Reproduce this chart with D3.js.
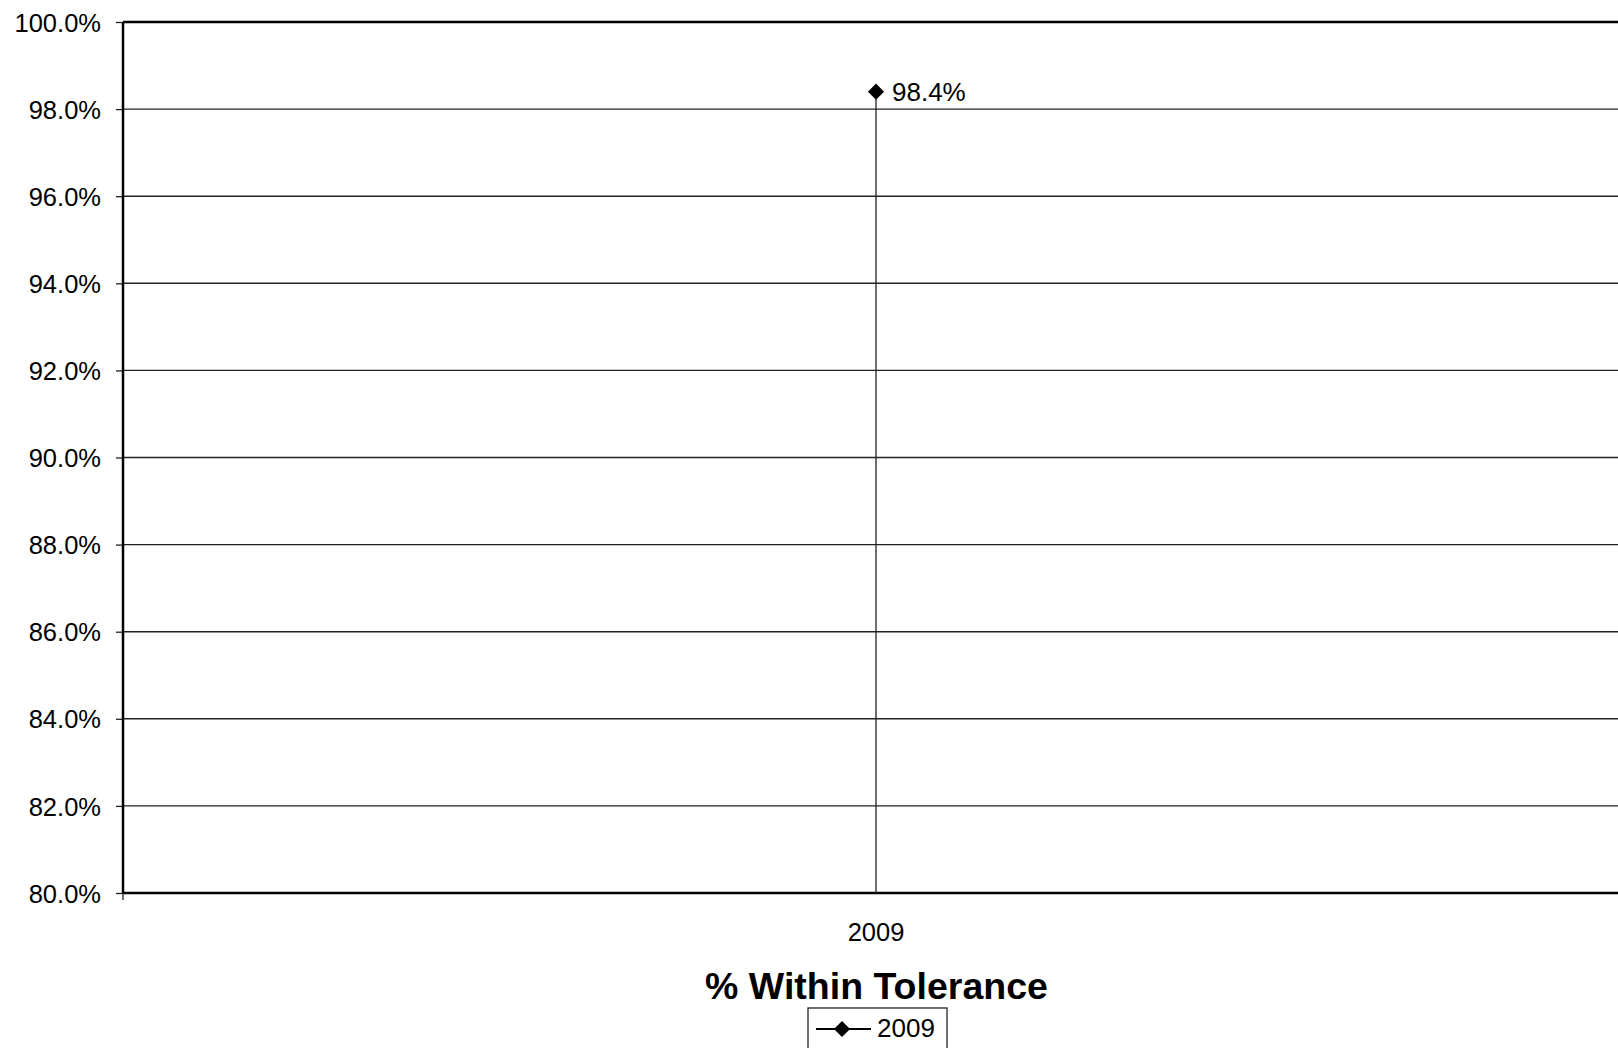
<!DOCTYPE html>
<html><head><meta charset="utf-8">
<script src="https://cdn.jsdelivr.net/npm/d3@7"></script>
<style>
html,body{margin:0;padding:0;background:#fff;}
svg{display:block;}
text{font-family:"Liberation Sans",Arial,sans-serif;fill:#000;}
</style></head>
<body>
<svg id="chart" width="1618" height="1048"></svg>
<script>
const categories = ["2009"];
const seriesName = "2009";
const values = [0.984];
const yTicks = [0.80,0.82,0.84,0.86,0.88,0.90,0.92,0.94,0.96,0.98,1.00];
const title = "% Within Tolerance";

const W = 1618, H = 1048;
const m = {left:123, top:22, bottom:H-893};
const svg = d3.select("#chart");
const ph = H - m.top - m.bottom;

// single category centered at 876
const xScale = d3.scaleBand().domain(categories).range([m.left, m.left + 2*(876-m.left)]).paddingInner(0).paddingOuter(0);
const xc = d => xScale(d) + xScale.bandwidth()/2;
const y = d3.scaleLinear().domain([0.8,1.0]).range([m.top+ph, m.top]);

// gridlines
svg.append("g").selectAll("line").data(yTicks.filter(t=>t>0.8 && t<1.0)).join("line")
  .attr("x1", m.left).attr("x2", W+2)
  .attr("y1", d=>y(d)).attr("y2", d=>y(d))
  .attr("stroke","#222").attr("stroke-width",1.4);

// y axis
const yAxis = d3.axisLeft(y).tickValues(yTicks).tickFormat(d3.format(".1%")).tickSize(7).tickPadding(15);
const gy = svg.append("g").attr("transform",`translate(${m.left},0)`).call(yAxis);
gy.select(".domain").remove();
gy.selectAll(".tick line").attr("stroke","#222").attr("stroke-width",1.3);
gy.selectAll(".tick text").style("font-size","25.5px").attr("fill","#000").attr("dy","0.36em");

// frame: left, top, bottom
svg.append("line").attr("x1",m.left).attr("x2",m.left).attr("y1",y(1.0)).attr("y2",y(0.8)).attr("stroke","#000").attr("stroke-width",2.5);
svg.append("line").attr("x1",m.left).attr("x2",W+2).attr("y1",y(1.0)).attr("y2",y(1.0)).attr("stroke","#000").attr("stroke-width",2.4);
svg.append("line").attr("x1",m.left).attr("x2",W+2).attr("y1",y(0.8)).attr("y2",y(0.8)).attr("stroke","#000").attr("stroke-width",2.4);
// bottom-left tick
svg.append("line").attr("x1",m.left).attr("x2",m.left).attr("y1",y(0.8)).attr("y2",y(0.8)+7).attr("stroke","#222").attr("stroke-width",1.3);

// x axis labels
svg.append("g").selectAll("text").data(categories).join("text")
  .attr("x", d=>xc(d)).attr("y", 941).attr("text-anchor","middle").style("font-size","25.5px").text(d=>d);

// drop line from point to axis
svg.append("g").selectAll("line").data(values).join("line")
  .attr("x1",(d,i)=>xc(categories[i])).attr("x2",(d,i)=>xc(categories[i]))
  .attr("y1",d=>y(d)).attr("y2",y(0.8))
  .attr("stroke","#222").attr("stroke-width",1.3);

// series line (single point) and markers
const line = d3.line().x((d,i)=>xc(categories[i])).y(d=>y(d));
svg.append("path").datum(values).attr("d",line).attr("fill","none").attr("stroke","#000").attr("stroke-width",2);
svg.append("g").selectAll("path").data(values).join("path")
  .attr("transform",(d,i)=>`translate(${xc(categories[i])},${y(d)}) rotate(45)`)
  .attr("d", d3.symbol().type(d3.symbolSquare).size(130)).attr("fill","#000");

// data labels
svg.append("g").selectAll("text").data(values).join("text")
  .attr("x",(d,i)=>xc(categories[i])+16).attr("y",d=>y(d)+9)
  .style("font-size","26px").text(d=>d3.format(".1%")(d));

// title
svg.append("text").attr("x",876.5).attr("y",999).attr("text-anchor","middle")
  .style("font-size","37.5px").style("font-weight","bold").text(title);

// legend
const lg = svg.append("g");
lg.append("rect").attr("x",808).attr("y",1008).attr("width",139).attr("height",44)
  .attr("fill","#fff").attr("stroke","#222").attr("stroke-width",1.3);
lg.append("line").attr("x1",816).attr("x2",871).attr("y1",1029).attr("y2",1029).attr("stroke","#000").attr("stroke-width",2);
lg.append("path").attr("transform","translate(842,1029) rotate(45)")
  .attr("d", d3.symbol().type(d3.symbolSquare).size(130)).attr("fill","#000");
lg.append("text").attr("x",877).attr("y",1037).style("font-size","26px").text(seriesName);
</script>
</body></html>
